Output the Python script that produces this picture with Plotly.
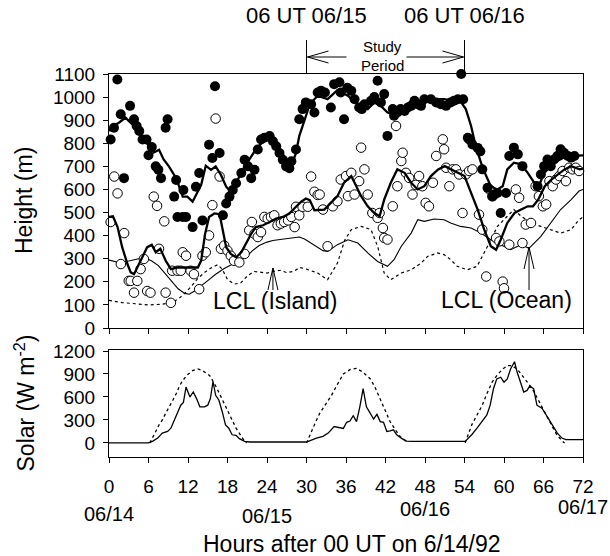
import plotly.graph_objects as go

# ---------------- data (hours after 00 UT 6/14/92) ----------------
# filled dots: mixed-layer top estimates
dots_hour = [0.25, 0.76, 1.27, 1.78, 2.28, 3.2, 3.8, 4.2, 4.6, 5.1, 5.7, 6.0, 6.5, 7.1, 7.5, 7.9,
             8.6, 8.9, 9.9, 10.2, 10.4, 11.2, 11.3, 11.7, 12.7, 13.2, 13.7, 14.2, 15.2, 15.7, 16.1,
             16.8, 17.3, 17.8, 18.3, 18.8, 19.3, 20.1, 20.6, 21.1, 21.6, 22.1, 22.6, 23.1, 23.6,
             24.4, 24.9, 25.4, 25.9, 26.4, 26.9, 27.4, 27.7, 28.4, 28.9, 29.4, 29.9, 30.7, 31.2,
             31.7, 32.2, 32.8, 33.7, 34.2, 35.0, 35.2, 35.7, 36.2, 36.8, 37.3, 38.0, 38.4, 38.8,
             39.8, 40.3, 40.8, 41.3, 41.8, 42.3, 43.1, 43.3, 43.8, 44.3, 44.9, 45.4, 45.9, 46.4,
             46.9, 47.4, 47.9, 48.9, 49.7, 50.4, 51.2, 51.9, 52.4, 53.0, 53.5, 53.8, 54.5, 54.7,
             55.2, 56.0, 56.4, 56.7, 57.5, 58.2, 58.5, 59.0, 59.5, 60.3, 60.8, 61.5, 62.1, 62.8,
             65.1, 65.6, 66.1, 66.6, 67.1, 67.6, 68.1, 68.6, 69.1, 69.7, 70.2, 70.7, 71.4]
dots_height = [816, 867, 1076, 926, 649, 962, 904, 875, 853, 816, 816, 748, 784, 700, 685, 649,
               867, 904, 569, 641, 481, 481, 598, 481, 437, 612, 671, 466, 794, 736, 1047,
               758, 488, 539, 569, 598, 627, 671, 729, 700, 649, 685, 773, 816, 824,
               831, 809, 787, 758, 729, 700, 692, 722, 773, 904, 948, 977, 969, 933,
               1020, 1028, 1020, 955, 1056, 1064, 1020, 904, 1040, 1027, 991, 955, 948, 969,
               984, 1000, 1071, 977, 1013, 832, 948, 919, 933, 948, 940, 955, 962, 984,
               969, 962, 991, 991, 977, 969, 962, 977, 984, 991, 1100, 991, 824, 817,
               795, 780, 765, 687, 607, 570, 578, 585, 498, 585, 745, 781, 752,
               701, 614, 665, 701, 730, 701, 730, 745, 774, 759, 745, 738, 745]

# open circles: second-layer estimates
circ_hour = [0.25, 0.8, 1.3, 1.8, 2.3, 3.0, 3.3, 3.8, 4.3, 4.8, 5.3, 5.8, 6.3, 6.8, 7.3, 7.6, 8.4,
             8.6, 9.4, 9.6, 10.4, 10.9, 11.2, 11.7, 12.4, 12.9, 13.7, 14.2, 14.7, 15.2, 15.7,
             16.2, 16.8, 17.0, 17.5, 18.0, 18.5, 19.0, 19.8, 20.6, 21.3, 21.7, 22.1, 22.6, 23.1,
             23.6, 24.1, 24.6, 25.1, 25.6, 26.1, 26.6, 27.2, 27.7, 28.2, 28.4, 28.9, 29.4, 30.2,
             30.7, 31.2, 31.7, 32.0, 32.5, 33.2, 34.0, 34.7, 35.2, 36.0, 36.3, 36.8, 37.3, 38.0,
             38.3, 38.8, 39.3, 40.0, 40.8, 41.1, 41.6, 41.8, 42.3, 43.1, 43.6, 43.8, 44.4, 44.6,
             45.1, 45.6, 46.1, 46.6, 47.1, 47.6, 48.1, 48.6, 49.2, 49.7, 50.7, 50.9, 51.2, 51.7,
             52.2, 52.7, 53.2, 53.7, 54.2, 54.7, 55.2, 56.2, 56.7, 57.3, 57.8, 58.3, 58.8, 59.3,
             59.8, 60.0, 60.8, 61.8, 62.3, 62.8, 63.3, 64.1, 64.8, 65.3, 65.9, 66.4, 66.9, 67.4,
             67.9, 68.4, 68.9, 69.4, 69.9, 70.4, 70.9, 71.4]
circ_height = [459, 656, 583, 277, 411, 204, 204, 153, 204, 255, 299, 160, 153, 569, 529, 343, 462,
               153, 109, 248, 248, 248, 328, 313, 248, 233, 168, 313, 328, 401, 532,
               907, 656, 343, 357, 335, 313, 291, 284, 321, 423, 459, 408, 394, 415,
               481, 474, 481, 488, 445, 452, 459, 466, 481, 437, 525, 488, 525, 525,
               656, 590, 576, 578, 513, 354, 527, 549, 643, 658, 571, 672, 578, 636,
               781, 687, 578, 498, 477, 498, 433, 390, 383, 527, 875, 614, 723, 759,
               672, 650, 578, 620, 658, 614, 542, 527, 629, 745, 817, 774, 694, 614,
               687, 687, 665, 498, 665, 680, 687, 491, 426, 223, 600, 571, 390, 375,
               201, 172, 361, 600, 564, 368, 448, 455, 614, 571, 527, 535, 636, 614,
               643, 658, 680, 636, 694, 687, 694, 680]

# thick line through filled dots
upper_hour = [0, 0.6, 1.5, 2.5, 3.0, 4.0, 5.0, 6.0, 6.8, 7.6, 8.3, 9.1, 10.2, 11.2, 11.9, 12.7,
              13.4, 14.0, 14.7, 15.5, 16.2, 17.0, 17.8, 18.5, 19.3, 20.3, 21.3, 22.3, 23.4, 24.1,
              24.9, 25.9, 26.9, 27.7, 28.4, 28.9, 29.7, 30.5, 31.2, 31.7, 33.2, 34.7, 36.3, 37.3,
              38.3, 39.3, 40.3, 41.3, 42.3, 43.3, 44.9, 46.4, 47.9, 49.4, 50.9, 52.4, 53.5, 54.2,
              55.0, 55.7, 56.5, 57.3, 58.0, 59.0, 59.8, 60.5, 61.5, 62.6, 63.6, 64.6, 65.4, 66.1,
              67.1, 68.1, 69.1, 70.2, 71.4, 72.0]
upper_height = [853, 875, 889, 911, 897, 870, 830, 790, 760, 772, 730, 700, 649, 569, 569, 547,
                590, 620, 703, 685, 700, 663, 612, 590, 627, 685, 729, 773, 809, 831,
                819, 773, 729, 700, 758, 831, 904, 969, 991, 1006, 991, 1030, 1006, 977,
                962, 948, 977, 962, 933, 926, 948, 969, 984, 991, 991, 984, 977, 948,
                875, 788, 716, 658, 614, 600, 614, 687, 716, 709, 672, 629, 622, 672,
                701, 723, 738, 745, 745, 748]

# thick line through open circles
lower_hour = [0, 0.6, 1.3, 2.0, 2.8, 3.3, 3.8, 4.3, 5.1, 5.8, 6.5, 7.1, 7.8, 8.6, 9.4, 10.4, 11.4,
              12.4, 13.5, 14.0, 14.6, 15.2, 16.0, 16.8, 17.4, 17.8, 18.5, 19.3, 20.1, 20.8, 21.6,
              22.3, 23.4, 24.4, 25.4, 26.4, 27.4, 28.4, 29.2, 29.9, 30.5, 31.2, 32.7, 33.7, 34.7,
              35.7, 36.8, 37.3, 38.3, 39.3, 40.3, 41.1, 41.8, 42.8, 43.8, 44.9, 45.9, 46.9, 47.9,
              48.9, 50.0, 51.0, 52.0, 53.0, 54.0, 55.0, 56.0, 57.0, 58.0, 58.8, 59.5, 60.5, 61.6,
              62.6, 63.6, 64.4, 65.2, 66.2, 67.2, 68.2, 69.2, 70.2, 71.5, 72.0]
lower_height = [481, 484, 437, 350, 277, 241, 233, 262, 306, 350, 360, 328, 343, 292, 255, 262, 262,
                262, 262, 292, 408, 481, 496, 493, 408, 350, 321, 306, 328, 364, 408,
                437, 445, 459, 474, 481, 496, 525, 547, 561, 554, 510, 513, 542, 571,
                629, 658, 629, 571, 527, 498, 484, 556, 629, 687, 672, 629, 600, 614,
                658, 687, 701, 687, 672, 658, 585, 513, 426, 354, 339, 382, 455, 498,
                513, 527, 527, 556, 614, 643, 665, 687, 701, 687, 690]

# LCL (Ocean) thin solid line
lcl_ocean_hour = [0, 1.5, 3.0, 4.5, 5.8, 6.5, 7.5, 8.5, 9.5, 10.5, 11.5, 12.2, 13.0, 13.7, 15.0,
                  16.2, 17.5, 18.8, 20.0, 20.8, 21.8, 22.8, 24.0, 24.9, 26.0, 26.9, 28.0, 28.9,
                  29.7, 30.5, 31.5, 32.5, 33.2, 34.7, 36.3, 37.8, 39.3, 40.8, 42.3, 43.3, 44.4,
                  45.9, 46.9, 47.9, 49.4, 50.9, 51.9, 53.4, 55.0, 56.5, 58.0, 59.5, 61.0, 62.6,
                  63.8, 65.6, 67.1, 68.6, 70.2, 71.4, 72.0]
lcl_ocean_height = [294, 284, 290, 300, 300, 290, 270, 235, 200, 170, 150, 146, 160, 175, 205,
                    233, 258, 277, 295, 306, 335, 357, 372, 379, 383, 386, 392, 394,
                    385, 370, 350, 335, 332, 361, 382, 368, 325, 288, 267, 296, 354,
                    411, 469, 462, 472, 469, 455, 440, 433, 411, 382, 361, 339, 361,
                    345, 397, 455, 513, 556, 593, 600]

# LCL (Island) dotted line
lcl_island_hour = [0, 2, 4, 6, 8, 9.5, 10.5, 11.5, 12.5, 13.5, 14.5, 15.5, 16.5, 17.2, 18, 19, 20,
                   21, 22, 23, 24, 25, 26, 27, 28, 29, 30, 31.7, 33.2, 34.7, 35.8, 36.8, 38.3,
                   39.8, 40.8, 41.8, 42.8, 44.4, 45.9, 47.4, 48.4, 49.9, 50.9, 51.9, 52.9, 54.4,
                   55.9, 57.5, 59.0, 60.5, 61.5, 62.6, 64.1, 65.6, 67.1, 68.6, 70.2, 71.4, 72]
lcl_island_height = [120, 110, 105, 100, 103, 110, 125, 150, 180, 215, 240, 260, 274, 255, 210, 190,
                     195, 225, 245, 240, 238, 245, 250, 240, 245, 262, 255, 238, 209, 281, 380,
                     426, 440, 426, 354, 238, 209, 238, 252, 281, 310, 325, 318, 296, 267,
                     252, 267, 354, 440, 484, 513, 484, 455, 440, 426, 411, 426, 469, 480]

# solar radiation observed (solid)
solar_hour = [0, 6.0, 6.6, 7.4, 8.1, 8.9, 9.4, 9.9, 10.4, 10.9, 11.3, 11.7, 12.3, 12.8, 13.3, 13.8,
              14.5, 15.0, 15.4, 15.8, 16.2, 16.7, 17.2, 17.7, 18.2, 18.7, 19.3, 19.8, 20.6, 21.4,
              30.0, 30.5, 31.5, 32.5, 33.3, 34.2, 34.8, 35.6, 36.1, 36.6, 37.1, 37.6, 38.1, 38.6,
              39.1, 39.7, 40.2, 40.7, 41.2, 41.7, 42.2, 42.7, 43.2, 43.7, 44.5, 45.2, 46.0, 54.1,
              54.4, 55.1, 55.9, 56.7, 57.4, 57.9, 58.4, 58.9, 59.5, 60.0, 60.5, 61.0, 61.6, 62.0,
              62.5, 63.0, 63.5, 63.9, 64.5, 65.0, 65.8, 66.6, 67.3, 68.1, 68.8, 69.4, 72.0]
solar_obs = [0, 0, 21, 64, 129, 150, 193, 300, 408, 493, 528, 729, 600, 665, 579, 472,
             472, 493, 579, 802, 622, 558, 408, 236, 193, 107, 99, 56, 21, 13,
             13, 30, 64, 86, 129, 214, 202, 190, 270, 287, 356, 279, 472, 708,
             472, 386, 313, 373, 279, 270, 150, 159, 172, 107, 56, 25, 20, 20,
             43, 107, 193, 279, 365, 493, 708, 836, 858, 794, 836, 965, 1060, 922,
             794, 665, 686, 742, 708, 493, 450, 343, 236, 129, 64, 43, 43]

# clear-sky solar radiation (dotted); None separates the days
clear_hour = [6.2, 6.6, 7.1, 7.6, 8.1, 8.6, 9.2, 9.7, 10.2, 10.7, 11.2, 11.9, 12.7, 13.5, 14.2,
              15.3, 16.3, 17.0, 17.8, 18.6, 19.3, 20.1, 20.6, 20.9, None,
              30.0, 30.5, 31.3, 32.0, 32.8, 33.8, 34.6, 35.2, 35.6, 36.6, 37.6, 38.6, 39.7, 40.4,
              41.2, 42.0, 42.7, 43.5, 44.2, 45.0, 45.4, None,
              54.1, 54.4, 55.1, 55.9, 56.7, 57.4, 58.2, 58.9, 59.7, 60.5, 61.2, 62.0, 62.8, 63.5,
              64.3, 65.1, 65.8, 66.5, 67.3, 68.0, 68.8, 69.2]
clear_solar = [0, 60, 150, 236, 300, 386, 472, 558, 643, 742, 815, 888, 944, 965, 944,
               879, 729, 600, 450, 322, 193, 86, 21, 0, None,
               0, 107, 257, 386, 493, 622, 750, 836, 900, 957, 974, 922, 836, 729,
               579, 429, 279, 172, 86, 30, 0, None,
               0, 73, 236, 365, 493, 643, 794, 879, 957, 1008, 1008, 965, 879, 794,
               708, 579, 472, 350, 220, 110, 30, 0]

x_ticks = list(range(0, 73, 6))
height_ticks = list(range(0, 1101, 100))
solar_ticks = [0, 300, 600, 900, 1200]
date_labels = ["06/14", "06/15", "06/16", "06/17"]
date_hours = [0, 24, 48, 72]
date_ypix = [514, 516, 509, 507]
study_hours = [30, 54]
study_labels = ["06 UT 06/15", "06 UT 06/16"]

# ---------------- figure ----------------
FONT = "Liberation Sans, Arial, Helvetica, sans-serif"
L, R, T, B = 109, 27, 74, 99
W, H = 610, 556
PH = H - T - B  # plot-area height in px


def py(pix):
    """pixel row -> paper y"""
    return (H - B - pix) / PH


def px(pix):
    return (pix - L) / (W - L - R)


fig = go.Figure()

fig.add_trace(go.Scatter(x=lcl_island_hour, y=lcl_island_height, mode="lines",
                         line=dict(color="black", width=1.2, dash="dot"),
                         xaxis="x", yaxis="y", hoverinfo="skip"))
fig.add_trace(go.Scatter(x=lcl_ocean_hour, y=lcl_ocean_height, mode="lines",
                         line=dict(color="black", width=1.1),
                         xaxis="x", yaxis="y", hoverinfo="skip"))
fig.add_trace(go.Scatter(x=circ_hour, y=circ_height, mode="markers",
                         marker=dict(symbol="circle", size=9.5, color="white",
                                     line=dict(color="black", width=1)),
                         xaxis="x", yaxis="y", cliponaxis=False))
fig.add_trace(go.Scatter(x=lower_hour, y=lower_height, mode="lines",
                         line=dict(color="black", width=2.3),
                         xaxis="x", yaxis="y", hoverinfo="skip"))
fig.add_trace(go.Scatter(x=upper_hour, y=upper_height, mode="lines",
                         line=dict(color="black", width=2.3),
                         xaxis="x", yaxis="y", hoverinfo="skip"))
fig.add_trace(go.Scatter(x=dots_hour, y=dots_height, mode="markers",
                         marker=dict(symbol="circle", size=10, color="black"),
                         xaxis="x", yaxis="y", cliponaxis=False))

fig.add_trace(go.Scatter(x=clear_hour, y=clear_solar, mode="lines",
                         line=dict(color="black", width=1.3, dash="dot"),
                         connectgaps=False, xaxis="x2", yaxis="y2"))
fig.add_trace(go.Scatter(x=solar_hour, y=solar_obs, mode="lines",
                         line=dict(color="black", width=1.3),
                         xaxis="x2", yaxis="y2"))

axis_common = dict(showline=True, linecolor="black", linewidth=1, mirror=True,
                   ticks="outside", ticklen=5, tickwidth=1, tickcolor="black",
                   showgrid=False, zeroline=False,
                   tickfont=dict(family=FONT, size=19, color="black"))

top_dom0 = py(328)
bot_dom1 = py(350)

fig.update_layout(
    width=W, height=H,
    margin=dict(l=L, r=R, t=T, b=B),
    paper_bgcolor="white", plot_bgcolor="white",
    showlegend=False,
    font=dict(family=FONT, color="black"),
    xaxis=dict(domain=[0, 1], anchor="y", range=[0, 72], tickvals=x_ticks,
               showticklabels=False, **axis_common),
    yaxis=dict(domain=[top_dom0, 1], anchor="x", range=[0, 1100], tickvals=height_ticks,
               ticklabelstandoff=4, **axis_common),
    xaxis2=dict(domain=[0, 1], anchor="y2", range=[0, 72], tickvals=x_ticks,
                ticklabelstandoff=7, **axis_common),
    yaxis2=dict(domain=[0, bot_dom1], anchor="x2", range=[-183, 1213], tickvals=solar_ticks,
                ticklabelstandoff=4, **axis_common),
)

ann = []
big = dict(family=FONT, size=23, color="black")

# axis titles
ann.append(dict(text="Height (m)", xref="paper", yref="paper", x=px(24), y=(top_dom0 + 1) / 2,
                textangle=-90, showarrow=False, font=big, xanchor="center", yanchor="middle"))
ann.append(dict(text="Solar (W m<sup>-2</sup>)", xref="paper", yref="paper", x=px(24),
                y=bot_dom1 / 2, textangle=-90, showarrow=False, font=big,
                xanchor="center", yanchor="middle"))
ann.append(dict(text="Hours after 00 UT on 6/14/92", xref="paper", yref="paper", x=px(351),
                y=py(544), showarrow=False, font=big, xanchor="center", yanchor="middle"))

# date labels
for lab, hr, yp in zip(date_labels, date_hours, date_ypix):
    ann.append(dict(text=lab, xref="x2", yref="paper", x=hr, y=py(yp), showarrow=False,
                    font=dict(family=FONT, size=20, color="black"),
                    xanchor="center", yanchor="middle"))

# study period header
for lab, hr in zip(study_labels, study_hours):
    ann.append(dict(text=lab, xref="x", yref="paper", x=hr, y=py(16), showarrow=False,
                    font=dict(family=FONT, size=22, color="black"),
                    xanchor="center", yanchor="middle"))
mid_study = (study_hours[0] + study_hours[1]) / 2
ann.append(dict(text="Study", xref="x", yref="paper", x=mid_study - 0.4, y=py(47), showarrow=False,
                font=dict(family=FONT, size=15, color="black"), xanchor="center", yanchor="middle"))
ann.append(dict(text="Period", xref="x", yref="paper", x=mid_study - 0.4, y=py(65), showarrow=False,
                font=dict(family=FONT, size=15, color="black"), xanchor="center", yanchor="middle"))

# LCL labels
ann.append(dict(text="LCL (Island)", xref="x", yref="paper", x=25.2, y=py(301), showarrow=False,
                font=big, xanchor="center", yanchor="middle"))
ann.append(dict(text="LCL (Ocean)", xref="x", yref="paper", x=60.4, y=py(300), showarrow=False,
                font=big, xanchor="center", yanchor="middle"))

fig.update_layout(annotations=ann)


def seg(xa, ya, x0, y0, x1, y1):
    """line drawn in pixel offsets (y up) around an anchor point (xa in hours, ya in paper)"""
    fig.add_shape(type="line", xref="x", yref="paper",
                  xsizemode="pixel", ysizemode="pixel", xanchor=xa, yanchor=ya,
                  x0=x0, y0=y0, x1=x1, y1=y1, line=dict(color="black", width=1))


# study period bars and outward arrows
for hr in study_hours:
    fig.add_shape(type="line", xref="x", yref="paper", x0=hr, x1=hr, y0=1.0, y1=py(40),
                  line=dict(color="black", width=1))
ya = py(57)
for hr, sgn, shaft in [(study_hours[0], 1, 40), (study_hours[1], -1, 58)]:
    seg(hr, ya, 1 * sgn, 0, shaft * sgn, 0)
    seg(hr, ya, 1 * sgn, 0, 22 * sgn, 6)
    seg(hr, ya, 1 * sgn, 0, 22 * sgn, -6)

# LCL pointer arrows (open V heads)
for hr, tip_pix in [(24.9, 268), (63.8, 247)]:
    yt = py(tip_pix)
    seg(hr, yt, 0, 0, 0, -(290 - tip_pix))
    seg(hr, yt, 0, 0, -5, -22)
    seg(hr, yt, 0, 0, 5, -22)

fig.write_html("out.html")
